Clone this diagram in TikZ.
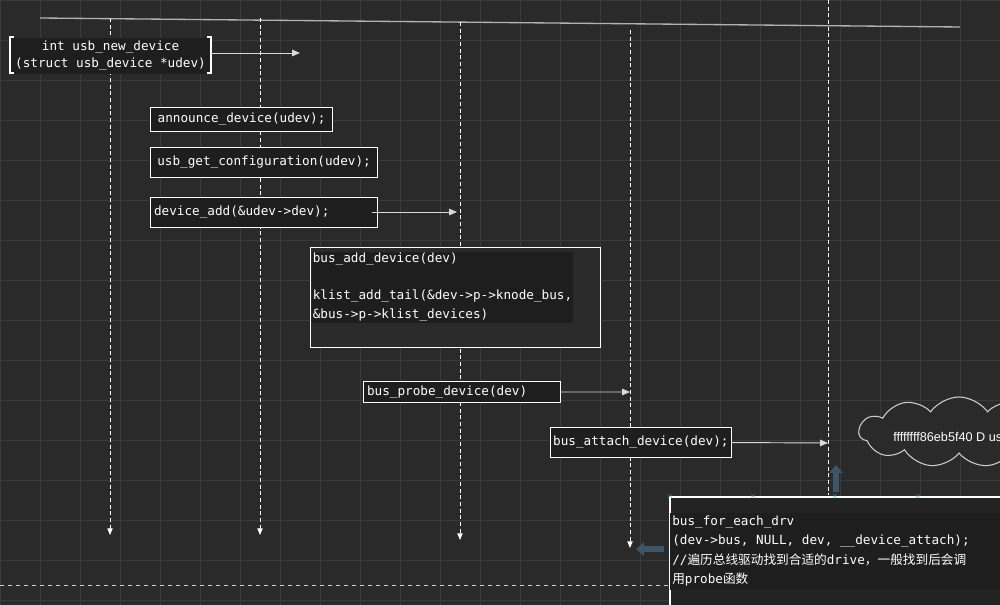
\documentclass[tikz,border=0pt]{standalone}
\usepackage{fontspec}
\setmonofont{DejaVu Sans Mono}
\setsansfont{Liberation Sans}
\newfontfamily\cjk{Noto Sans CJK SC}
\usetikzlibrary{shapes.symbols,arrows.meta}
\definecolor{bg}{HTML}{2A2A2A}
\definecolor{tbg}{HTML}{1E1E1E}
\definecolor{grd}{HTML}{3A3A3A}
\definecolor{fat}{HTML}{3D5566}
\definecolor{mkblue}{HTML}{2FA0E0}
\begin{document}
\begin{tikzpicture}[x=0.75pt,y=-0.75pt,
  box/.style={draw=white,line width=0.8pt,inner sep=2pt,text=white,font=\ttfamily\fontsize{9.5}{13}\selectfont},
  life/.style={draw=white,densely dashed,line width=0.7pt,-{Triangle[width=4pt,length=5pt]}},
  msg/.style={draw=white!85!black,line width=0.7pt,-{Triangle[width=5pt,length=6pt]}},
  fatarr/.style={fat,line width=4pt,-{Triangle[width=10pt,length=6pt]}}]
\useasboundingbox (0,0) rectangle (1000,605);
\fill[bg] (0,0) rectangle (1000,605);
\foreach \i in {0,40,...,1000} \draw[grd,line width=0.4pt] (\i,0)--(\i,605);
\foreach \j in {0,40,...,600} \draw[grd,line width=0.4pt] (0,\j)--(1000,\j);
\draw[white!70!black,line width=1pt] (40,18)--(960,27);
% lifelines
\coordinate (l1a) at (110,18); \coordinate (l1b) at (110,535);
\coordinate (l2a) at (260,18); \coordinate (l2b) at (260,535);
\coordinate (l3a) at (460,22); \coordinate (l3b) at (460,540);
\coordinate (l4a) at (630,30); \coordinate (l4b) at (630,548);
\coordinate (l5a) at (828,0); \coordinate (l5b) at (828,495);
\draw[life] (l1a)--(l1b);
\draw[life] (l2a)--(l2b);
\draw[life] (l3a)--(l3b);
\draw[life] (l4a)--(l4b);
\draw[white,densely dashed,line width=0.7pt] (l5a)--(l5b);
\draw[white!80!black,dashed,line width=0.6pt] (0,585)--(670,585);
% boxes
\node[box,fill=tbg,draw=none,align=center,minimum width=200*0.75pt,minimum height=36*0.75pt,anchor=north west] (nd) at (10,37) {int usb\_new\_device\\(struct usb\_device *udev)};
\draw[white,line width=0.8pt] (14,37)--(10,37)--(10,73)--(14,73) (207,37)--(211,37)--(211,73)--(207,73);
\coordinate (nde) at (300,53);
\draw[msg] (211,53)--(nde);
\node[box,fill=tbg,anchor=north west,minimum width=182*0.75pt,minimum height=24*0.75pt] (an) at (150,107) {announce\_device(udev);};
\node[box,fill=tbg,anchor=north west,minimum width=227*0.75pt,minimum height=30*0.75pt] (gc) at (150,147) {usb\_get\_configuration(udev);};
\node[box,fill=tbg,anchor=north west,minimum width=227*0.75pt,minimum height=30*0.75pt,text width=220*0.75pt] (da) at (150,197) {device\_add(\&udev->dev);};
\coordinate (dae) at (457,212);
\draw[msg] (372,212)--(dae);
\node[box,fill=bg,anchor=north west,minimum width=290*0.75pt,minimum height=100*0.75pt,text width=280*0.75pt,align=left] (ba) at (310,247) {};
\node[box,draw=none,fill=tbg,anchor=north west,align=left,inner sep=1pt,font=\ttfamily\fontsize{9.5}{14}\selectfont] at (311,251) {bus\_add\_device(dev)\\[14pt]klist\_add\_tail(\&dev->p->knode\_bus,\\\&bus->p->klist\_devices)};
\node[box,fill=tbg,anchor=north west,minimum width=197*0.75pt,minimum height=21*0.75pt,text width=190*0.75pt] (bp) at (363,381) {bus\_probe\_device(dev)};
\coordinate (bpe) at (630,392);
\draw[msg] (bp.east)--(bpe);
\node[box,fill=tbg,anchor=north west,minimum width=180*0.75pt,minimum height=30*0.75pt] (bat) at (550,427) {bus\_attach\_device(dev);};
\coordinate (bate) at (828,443);
\draw[msg] (bat.east)--(bate);
% cloud
\begin{scope}
\clip (0,0) rectangle (1000,605);
\node[cloud,cloud puffs=11,cloud puff arc=110,aspect=3.2,draw=white!80!black,line width=0.8pt,fill=bg,minimum width=200*0.75pt,minimum height=70*0.75pt,anchor=west] (cl) at (858,432) {};
\node[anchor=west,text=white,font=\sffamily\fontsize{9.5}{11}\selectfont,inner sep=0pt] at (893,437) {ffffffff86eb5f40 D usb};
% bottom box
\fill[tbg!60!bg] (670,497) rectangle (1010,610);
\draw[white,line width=0.8pt] (670,610)--(670,497)--(1010,497);
\fill[tbg] (670,513) rectangle (1010,590);
\node[anchor=north west,text=white,align=left,inner sep=0pt,font=\ttfamily\fontsize{9.5}{14.3}\selectfont] (bf) at (672,516) {bus\_for\_each\_drv\\(dev->bus, NULL, dev, \_\_device\_attach);\\//{\cjk 遍历总线驱动找到合适的}drive{\cjk ，一般找到后会调}\\{\cjk 用}probe{\cjk 函数}};
\foreach \p in {(670,497),(753,497),(835,497),(918,497)}
  \node[mkblue,font=\fontsize{6}{6}\selectfont,inner sep=0pt] at \p {$\times$};
\end{scope}
\draw[fatarr] (836,492)--(836,465);
\draw[fatarr] (664,549)--(636,549);
\end{tikzpicture}
\end{document}
